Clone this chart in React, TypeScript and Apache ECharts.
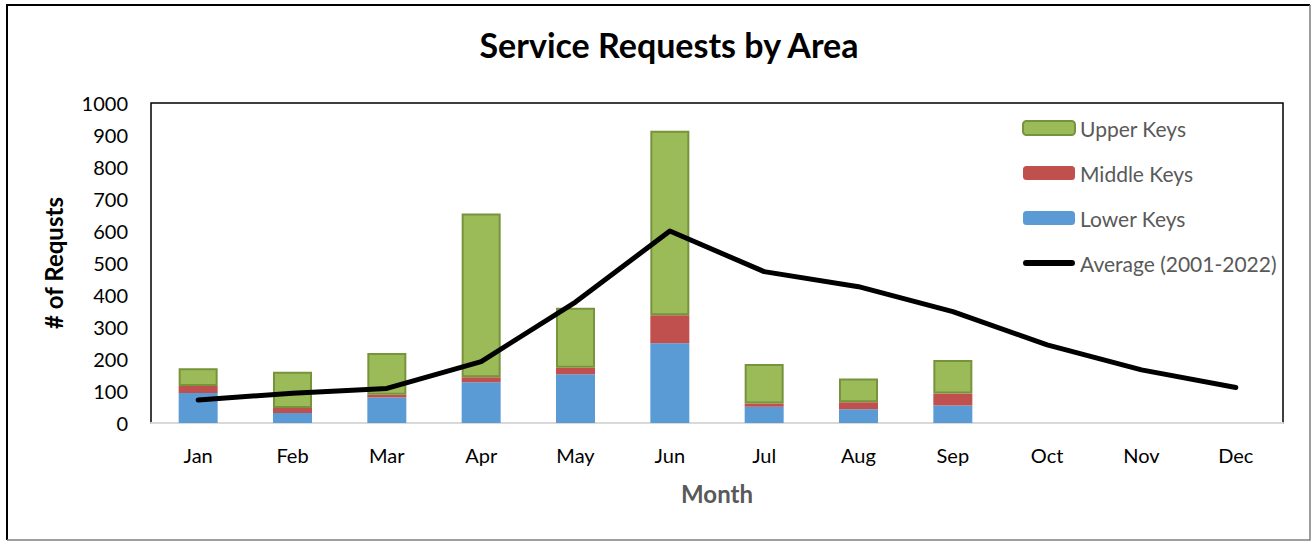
import React, { useEffect, useRef } from "react";
import * as echarts from "echarts";

const months = ["Jan", "Feb", "Mar", "Apr", "May", "Jun", "Jul", "Aug", "Sep", "Oct", "Nov", "Dec"];
const lowerKeys = [94, 31, 80, 127, 152, 249, 51, 43, 55, null, null, null];
const middleKeys = [22, 16, 8, 16, 21, 88, 10, 22, 37, null, null, null];
const upperKeys = [55, 113, 131, 512, 187, 576, 123, 74, 105, null, null, null];
const average = [72, 93, 108, 192, 378, 600, 473, 426, 348, 244, 166, 111];
const yTicks = { min: 0, max: 1000, interval: 100 };

const FONT = "Lato, 'Open Sans', sans-serif";
const LINE_ICON =
  "path://M0,0h0.01v0.01h-0.01z M0,14h0.01v0.01h-0.01z M3,4 L49,4 A3,3 0 0 1 49,10 L3,10 A3,3 0 0 1 3,4 Z";

export default function App() {
  const ref = useRef<HTMLDivElement>(null);
  useEffect(() => {
    if (!ref.current) return;
    const chart = echarts.init(ref.current, null, { renderer: "svg" });
    chart.setOption({
      animation: false,
      backgroundColor: "#fff",
      textStyle: { fontFamily: FONT },
      title: {
        text: "Service Requests by Area",
        left: 664,
        textAlign: "center",
        top: 22,
        textStyle: { fontFamily: FONT, fontWeight: "bold", fontSize: 34, color: "#000" },
      },
      legend: {
        orient: "vertical",
        left: 1017,
        top: 112,
        itemWidth: 52,
        itemHeight: 14,
        itemGap: 23,
        data: [
          "Upper Keys",
          "Middle Keys",
          "Lower Keys",
          { name: "Average (2001-2022)", icon: LINE_ICON, itemStyle: { color: "#000" } },
        ],
        textStyle: { fontFamily: FONT, fontSize: 21, color: "#595959", lineHeight: 22 },
      },
      grid: {
        left: 151,
        top: 103,
        right: 29,
        bottom: 119,
        show: true,
        borderColor: "#000",
        borderWidth: 1.5,
        backgroundColor: "transparent",
      },
      xAxis: {
        type: "category",
        data: months,
        axisTick: { show: false },
        axisLine: { lineStyle: { color: "#D9D9D9", width: 2 } },
        axisLabel: { fontFamily: FONT, fontSize: 20, color: "#000", margin: 22 },
        name: "Month",
        nameLocation: "middle",
        nameGap: 58,
        nameTextStyle: { fontFamily: FONT, fontSize: 24, fontWeight: "bold", color: "#595959" },
      },
      yAxis: {
        type: "value",
        min: yTicks.min,
        max: yTicks.max,
        interval: yTicks.interval,
        splitLine: { show: false },
        axisLine: { show: false },
        axisTick: { show: false },
        axisLabel: { fontFamily: FONT, fontSize: 20, color: "#000", margin: 23, formatter: (v: number) => String(v) },
        name: "# of Requsts",
        nameLocation: "middle",
        nameGap: 86,
        nameTextStyle: { fontFamily: FONT, fontSize: 24, fontWeight: "bold", color: "#000" },
      },
      series: [
        {
          name: "Lower Keys",
          type: "bar",
          stack: "total",
          barWidth: 39,
          data: lowerKeys,
          itemStyle: { color: "#5B9BD5" },
        },
        {
          name: "Middle Keys",
          type: "bar",
          stack: "total",
          barWidth: 39,
          data: middleKeys,
          itemStyle: { color: "#C0504D" },
        },
        {
          name: "Upper Keys",
          type: "bar",
          stack: "total",
          barWidth: 39,
          data: upperKeys,
          itemStyle: { color: "#9BBB59", borderColor: "#77933C", borderWidth: 2 },
        },
        {
          name: "Average (2001-2022)",
          type: "line",
          data: average,
          symbol: "none",
          lineStyle: { color: "#000", width: 5, cap: "round", join: "round" },
          itemStyle: { color: "#000" },
          z: 5,
        },
      ],
      graphic: [
        {
          type: "polyline",
          shape: { points: [[7, 540], [7, 5], [1310, 5]] },
          style: { stroke: "#000", lineWidth: 2, fill: null },
          silent: true,
        },
        {
          type: "polyline",
          shape: { points: [[1310, 5], [1310, 540], [7, 540]] },
          style: { stroke: "#7F7F7F", lineWidth: 1.5, fill: null },
          silent: true,
        },
      ],
    });
    return () => chart.dispose();
  }, []);
  return (
    <div
      ref={ref}
      style={{ position: "fixed", left: 0, top: 0, width: 1312, height: 542 }}
    />
  );
}
